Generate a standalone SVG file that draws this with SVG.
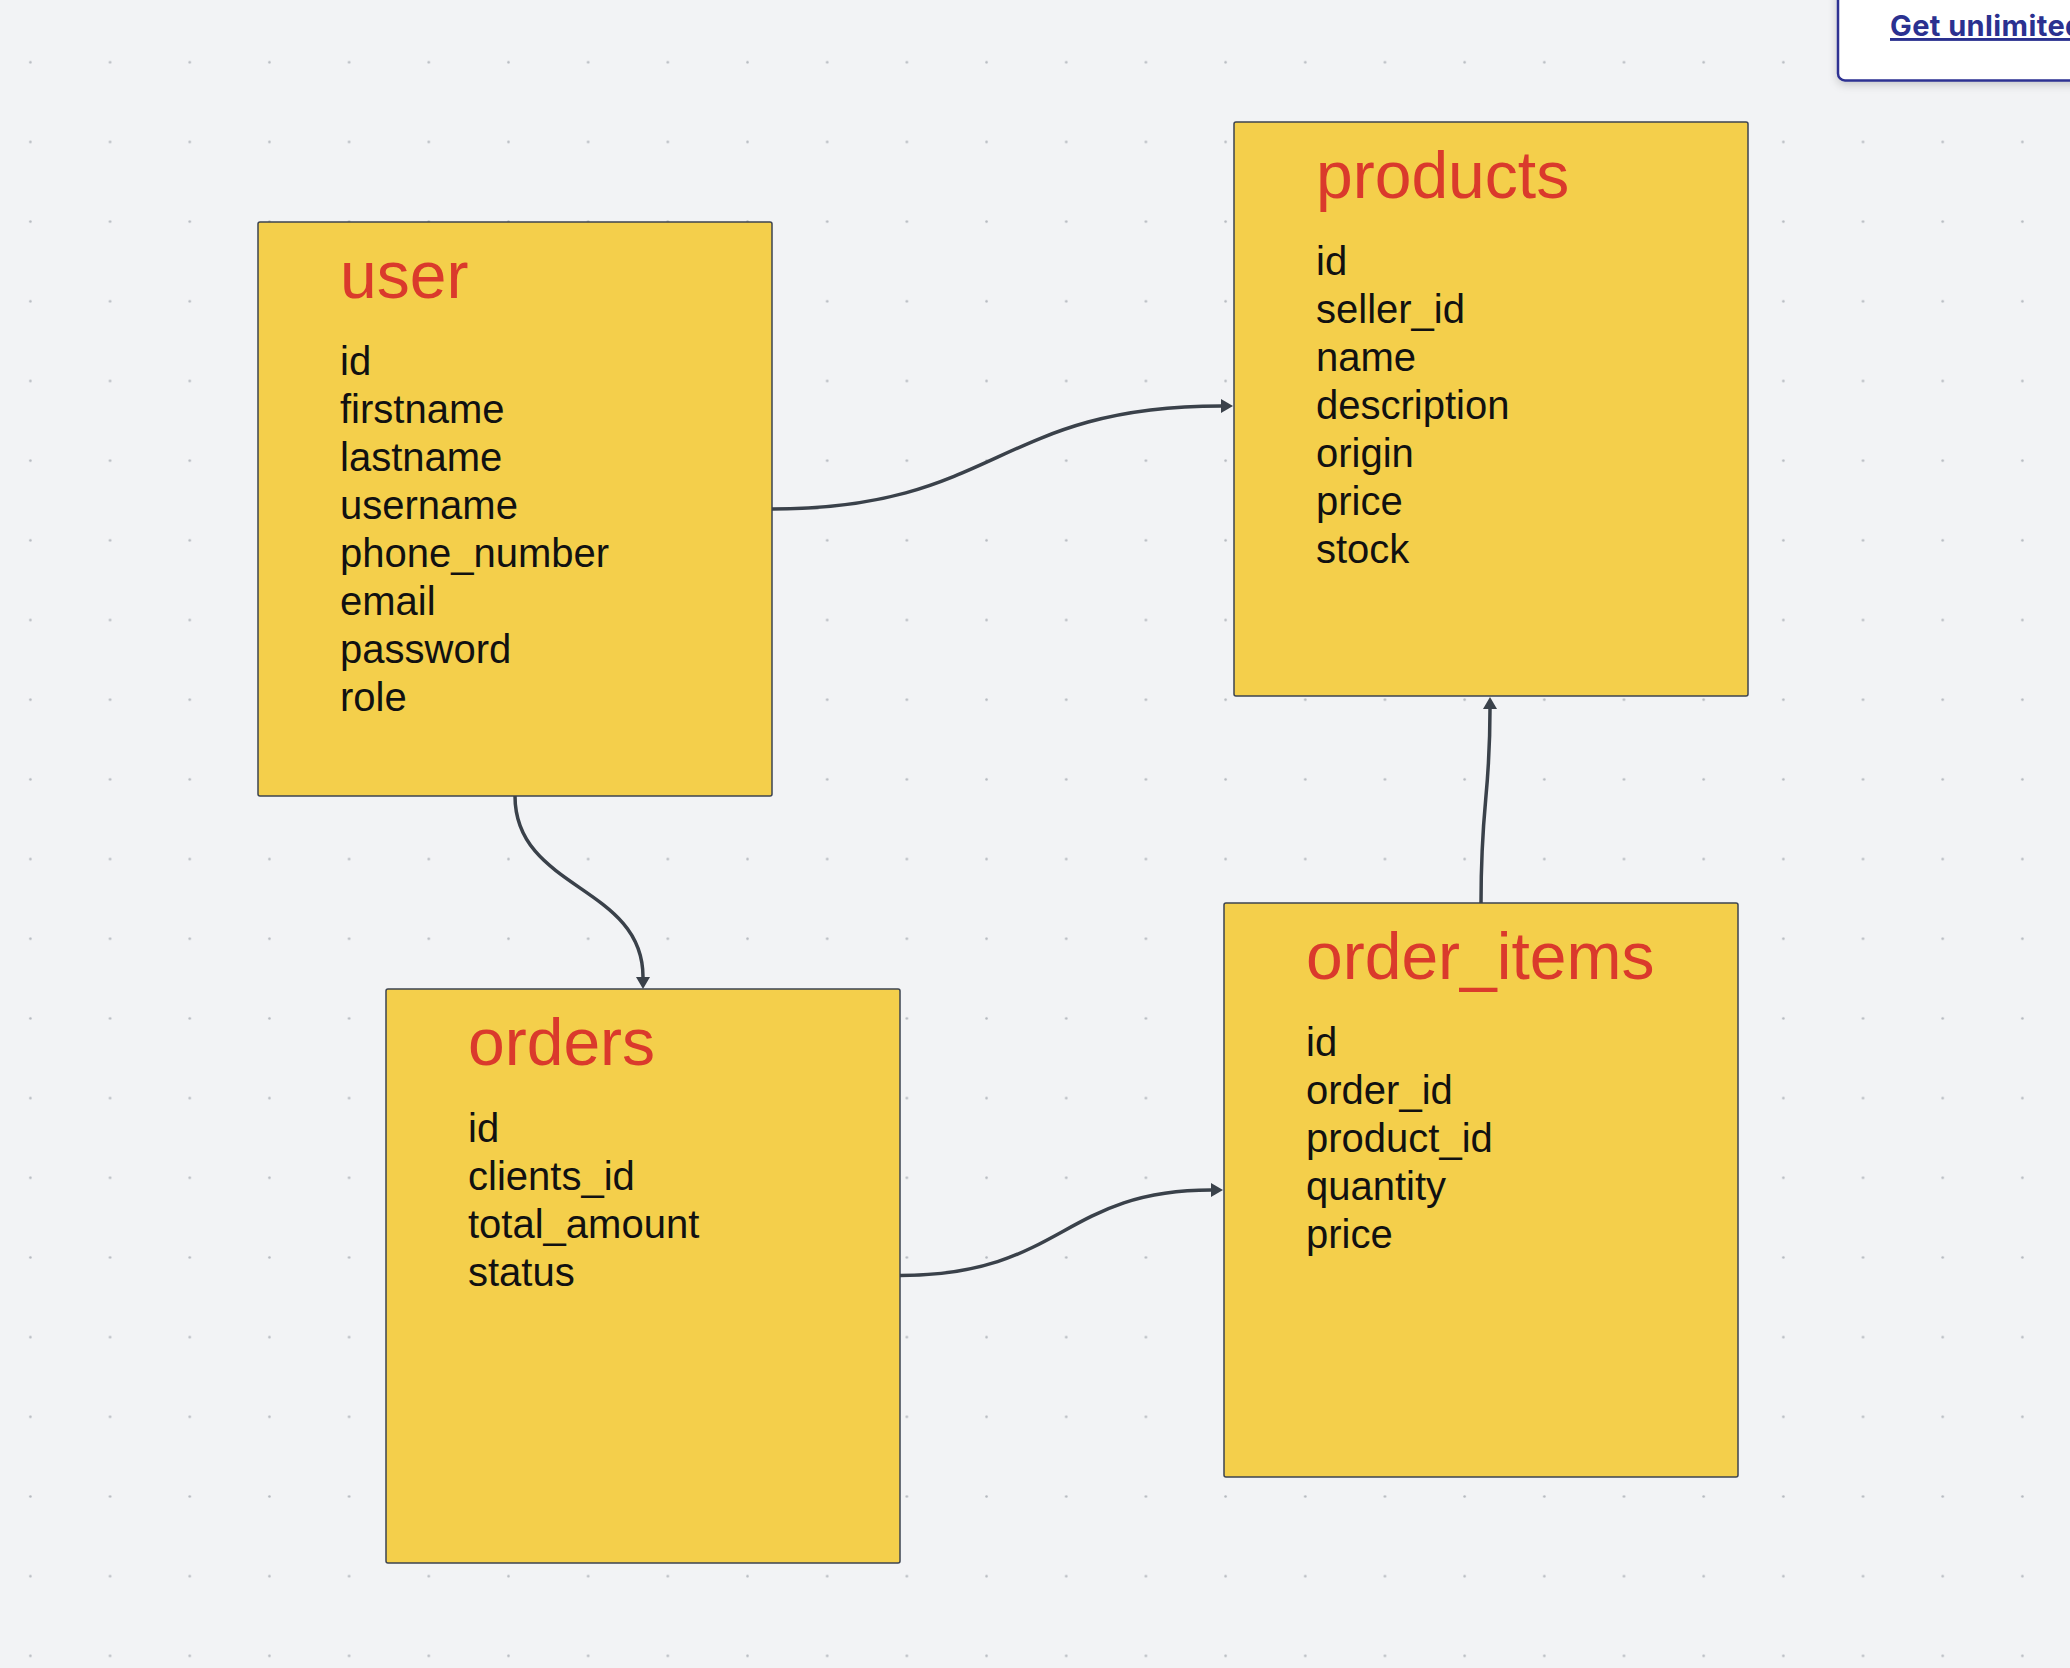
<svg xmlns="http://www.w3.org/2000/svg" width="2070" height="1668" viewBox="0 0 2070 1668">
  <style>
    .box { fill: #F4CF4B; stroke: #3D4450; stroke-width: 1.5; }
    .title { font-family: "Liberation Sans", Arial, sans-serif; font-size: 66px; fill: #DA3A2C; }
    .field { font-family: "Liberation Sans", Arial, sans-serif; font-size: 40px; fill: #111111; }
    .conn { fill: none; stroke: #3A414A; stroke-width: 3.5; }
    .promo { font-family: Inter, "Liberation Sans", sans-serif; font-weight: 700; font-size: 29px; letter-spacing: 0.4px; fill: #2B3190; text-decoration: underline; }
  </style>
  <defs>
    <pattern id="dots" x="0" y="0" width="79.68" height="79.68" patternUnits="userSpaceOnUse">
      <circle cx="30.4" cy="62.2" r="1.3" fill="#B4B8BE"/>
    </pattern>
    <marker id="arrow" viewBox="0 0 12 14" refX="0" refY="7" markerWidth="12" markerHeight="14" markerUnits="userSpaceOnUse" orient="auto">
      <path d="M0,0 L12,7 L0,14 z" fill="#3A414A"/>
    </marker>
    <filter id="shadow" x="-20%" y="-50%" width="140%" height="200%">
      <feDropShadow dx="0" dy="3" stdDeviation="4" flood-color="#000000" flood-opacity="0.18"/>
    </filter>
  </defs>

  <rect x="0" y="0" width="2070" height="1668" fill="#F2F3F5"/>
  <rect x="0" y="0" width="2070" height="1668" fill="url(#dots)"/>

  <g id="user">
    <rect class="box" x="258" y="222" width="514" height="574" rx="2"/>
    <text class="title" x="340" y="298">user</text>
    <text class="field" x="340" y="375">id</text>
    <text class="field" x="340" y="423">firstname</text>
    <text class="field" x="340" y="471">lastname</text>
    <text class="field" x="340" y="519">username</text>
    <text class="field" x="340" y="567">phone_number</text>
    <text class="field" x="340" y="615">email</text>
    <text class="field" x="340" y="663">password</text>
    <text class="field" x="340" y="711">role</text>
  </g>

  <g id="products">
    <rect class="box" x="1234" y="122" width="514" height="574" rx="2"/>
    <text class="title" x="1316" y="198">products</text>
    <text class="field" x="1316" y="275">id</text>
    <text class="field" x="1316" y="323">seller_id</text>
    <text class="field" x="1316" y="371">name</text>
    <text class="field" x="1316" y="419">description</text>
    <text class="field" x="1316" y="467">origin</text>
    <text class="field" x="1316" y="515">price</text>
    <text class="field" x="1316" y="563">stock</text>
  </g>

  <g id="orders">
    <rect class="box" x="386" y="989" width="514" height="574" rx="2"/>
    <text class="title" x="468" y="1065">orders</text>
    <text class="field" x="468" y="1142">id</text>
    <text class="field" x="468" y="1190">clients_id</text>
    <text class="field" x="468" y="1238">total_amount</text>
    <text class="field" x="468" y="1286">status</text>
  </g>

  <g id="order_items">
    <rect class="box" x="1224" y="903" width="514" height="574" rx="2"/>
    <text class="title" x="1306" y="979">order_items</text>
    <text class="field" x="1306" y="1056">id</text>
    <text class="field" x="1306" y="1104">order_id</text>
    <text class="field" x="1306" y="1152">product_id</text>
    <text class="field" x="1306" y="1200">quantity</text>
    <text class="field" x="1306" y="1248">price</text>
  </g>

  <g id="connectors">
    <path class="conn" d="M772,509 C997,509 997,406 1221,406" marker-end="url(#arrow)"/>
    <path class="conn" d="M515,796 C515,890 643,885 643,977" marker-end="url(#arrow)"/>
    <path class="conn" d="M1481,903 C1481,800 1490,800 1490,709" marker-end="url(#arrow)"/>
    <path class="conn" d="M900,1275.5 C1062,1275.5 1062,1190 1211,1190" marker-end="url(#arrow)"/>
  </g>

  <g id="promo">
    <rect x="1838" y="-12" width="260" height="92.5" rx="7" fill="#FFFFFF" stroke="#2E3192" stroke-width="2.5" filter="url(#shadow)"/>
    <text class="promo" x="1890" y="36">Get unlimited</text>
  </g>
</svg>
